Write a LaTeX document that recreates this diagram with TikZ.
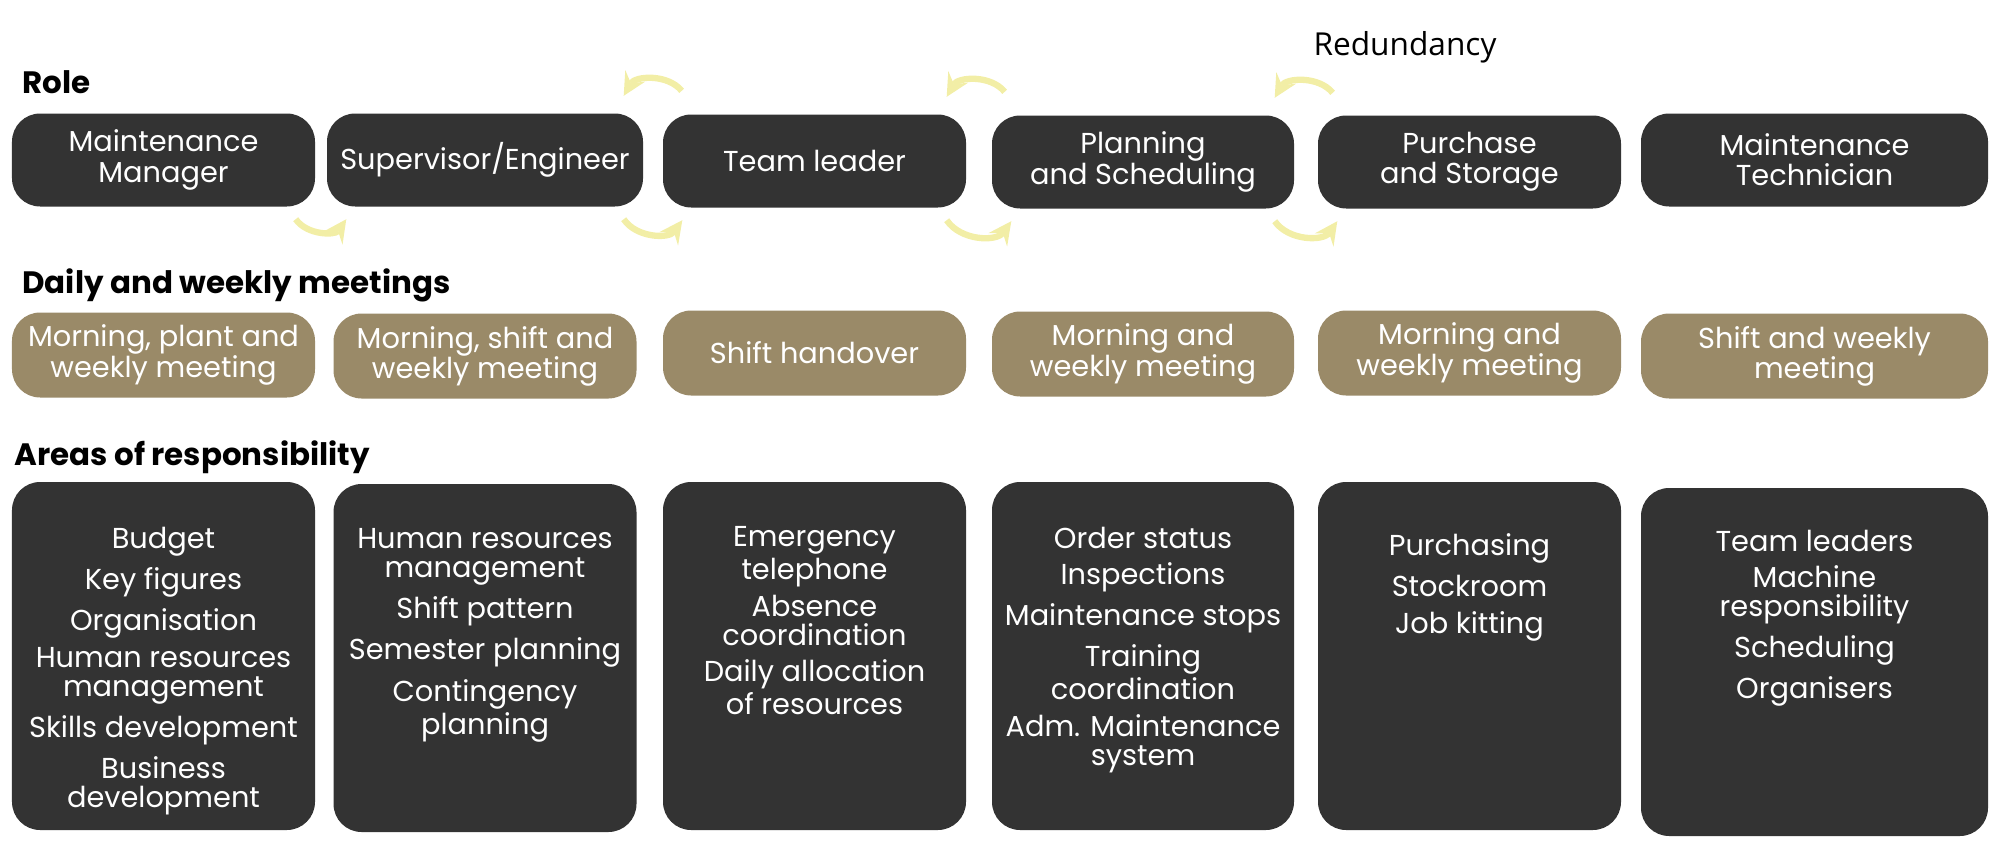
\documentclass[tikz,border=0pt]{standalone}
\usepackage{fontspec}
\setmainfont{Poppins}
\newfontfamily\plainfont{Open Sans}
\usetikzlibrary{positioning,calc,arrows}
\definecolor{boxdark}{HTML}{333333}
\definecolor{meetgold}{HTML}{9A8A68}
\definecolor{redundyellow}{HTML}{F2EEA6}
\begin{document}
\begin{tikzpicture}[
            role/.style={rectangle, rounded corners=8pt, fill=boxdark, text=white, minimum height=0.93cm, align=center, font=\fontsize{8.2}{8.6}\selectfont, inner sep=0pt},
            meet/.style={rectangle, rounded corners=8pt, fill=meetgold, text=white, minimum height=0.85cm, align=center, font=\fontsize{8.2}{8.6}\selectfont, inner sep=0pt},
            area/.style={rectangle, rounded corners=8pt, fill=boxdark, minimum height=3.48cm, inner sep=0pt},
            areatext/.style={text=white, align=center, font=\fontsize{8.2}{8.2}\selectfont, anchor=north},
            head/.style={anchor=west, font=\fontsize{8.8}{9}\selectfont\bfseries},
            redund/.style={->, >=stealth, line width=1.8pt, draw=redundyellow}
        ]
            \useasboundingbox (0,0) rectangle (20,8.62);

            % Headers
            \node[head] (hrole) at (0.1,7.8) {Role};
            \node[head] (hmeet) at (0.1,5.77) {Daily and weekly meetings};
            \node[head] (hareas) at (0.02,4.05) {Areas of responsibility};
            \node[font=\plainfont\fontsize{9}{10}\selectfont] (hred) at (14.05,8.15) {Redundancy};

            % Roles
            \node[role, minimum width=3.03cm] (r1) at (1.635,7.02) {Maintenance\\Manager};
            \node[role, minimum width=3.16cm] (r2) at (4.85,7.02) {Supervisor/Engineer};
            \node[role, minimum width=3.03cm] (r3) at (8.145,7.01) {Team leader};
            \node[role, minimum width=3.02cm] (r4) at (11.43,7.0) {Planning\\and Scheduling};
            \node[role, minimum width=3.03cm] (r5) at (14.695,7.0) {Purchase\\and Storage};
            \node[role, minimum width=3.47cm] (r6) at (18.145,7.02) {Maintenance\\Technician};

            % Meetings
            \node[meet, minimum width=3.03cm] (m1) at (1.635,5.07) {Morning, plant and\\weekly meeting};
            \node[meet, minimum width=3.03cm] (m2) at (4.85,5.06) {Morning, shift and\\weekly meeting};
            \node[meet, minimum width=3.03cm] (m3) at (8.145,5.09) {Shift handover};
            \node[meet, minimum width=3.02cm] (m4) at (11.43,5.08) {Morning and\\weekly meeting};
            \node[meet, minimum width=3.03cm] (m5) at (14.695,5.09) {Morning and\\weekly meeting};
            \node[meet, minimum width=3.47cm] (m6) at (18.145,5.06) {Shift and weekly\\meeting};

            % Areas of responsibility
            \node[area, minimum width=3.03cm] (a1) at (1.635,2.06) {};
            \node[area, minimum width=3.03cm] (a2) at (4.85,2.04) {};
            \node[area, minimum width=3.03cm] (a3) at (8.145,2.06) {};
            \node[area, minimum width=3.02cm] (a4) at (11.43,2.06) {};
            \node[area, minimum width=3.03cm] (a5) at (14.695,2.06) {};
            \node[area, minimum width=3.47cm] (a6) at (18.145,2.0) {};

            \node[areatext, below=0.33cm of a1.north] (t1) {Budget\\[0.08cm]Key figures\\[0.08cm]Organisation\\[0.08cm]Human resources\\management\\[0.08cm]Skills development\\[0.08cm]Business\\development};
            \node[areatext, below=0.33cm of a2.north] (t2) {Human resources\\management\\[0.08cm]Shift pattern\\[0.08cm]Semester planning\\[0.08cm]Contingency\\planning};
            \node[areatext, below=0.33cm of a3.north] (t3) {Emergency\\telephone\\[0.08cm]Absence\\coordination\\[0.08cm]Daily allocation\\of resources};
            \node[areatext, below=0.33cm of a4.north] (t4) {Order status\\[0.08cm]Inspections\\[0.08cm]Maintenance stops\\[0.08cm]Training\\coordination\\[0.08cm]Adm. Maintenance\\system};
            \node[areatext, below=0.4cm of a5.north] (t5) {Purchasing\\[0.08cm]Stockroom\\[0.08cm]Job kitting};
            \node[areatext, below=0.3cm of a6.north] (t6) {Team leaders\\[0.08cm]Machine\\responsibility\\[0.08cm]Scheduling\\[0.08cm]Organisers};

            % Redundancy arrows
            \draw[redund] ([xshift=-0.2cm,yshift=-0.12cm]r1.south east) to[bend right=55] ([xshift=0.2cm,yshift=-0.12cm]r2.south west);
            \draw[redund] ([xshift=-0.2cm,yshift=-0.12cm]r2.south east) to[bend right=55] ([xshift=0.2cm,yshift=-0.12cm]r3.south west);
            \draw[redund] ([xshift=-0.2cm,yshift=-0.12cm]r3.south east) to[bend right=55] ([xshift=0.2cm,yshift=-0.12cm]r4.south west);
            \draw[redund] ([xshift=-0.2cm,yshift=-0.12cm]r4.south east) to[bend right=55] ([xshift=0.2cm,yshift=-0.12cm]r5.south west);
            \draw[redund] ([xshift=0.38cm,yshift=0.22cm]r2.north east) to[bend right=55] ([xshift=-0.2cm,yshift=0.17cm]r2.north east);
            \draw[redund] ([xshift=0.38cm,yshift=0.22cm]r3.north east) to[bend right=55] ([xshift=-0.2cm,yshift=0.17cm]r3.north east);
            \draw[redund] ([xshift=0.38cm,yshift=0.22cm]r4.north east) to[bend right=55] ([xshift=-0.2cm,yshift=0.17cm]r4.north east);
        \end{tikzpicture}
\end{document}
